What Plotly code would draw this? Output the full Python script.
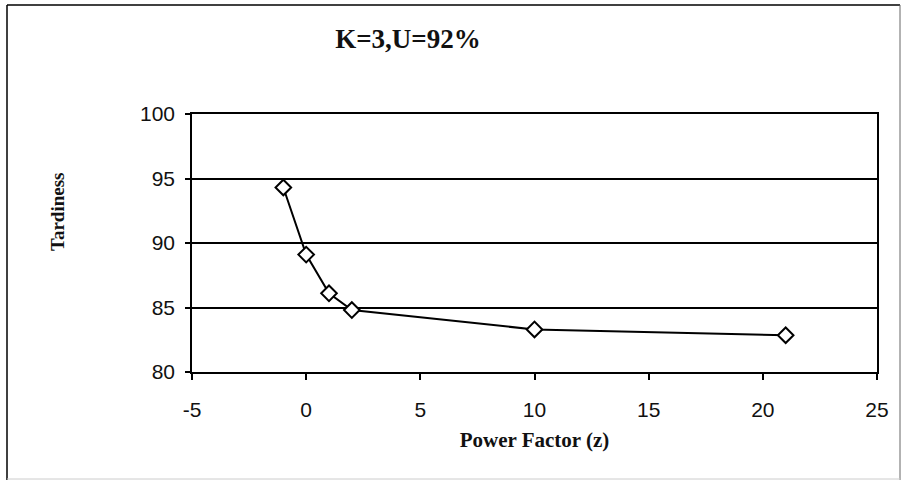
import plotly.graph_objects as go

power_factor = [-1, 0, 1, 2, 10, 21]
tardiness = [94.3, 89.1, 86.1, 84.8, 83.3, 82.85]

x_ticks = [-5, 0, 5, 10, 15, 20, 25]
x_tick_labels = ["-5", "0", "5", "10", "15", "20", "25"]
y_ticks = [80, 85, 90, 95, 100]

W, H = 904, 483
L, R, T, B = 192, 27, 114, 111
pw, ph = W - L - R, H - T - B

def px(x):
    return (x - L) / pw

def py(y):
    return (H - B - y) / ph

fig = go.Figure()
fig.add_trace(go.Scatter(
    x=power_factor, y=tardiness, mode="lines+markers",
    line=dict(color="black", width=2),
    marker=dict(symbol="diamond", size=12, color="white",
                line=dict(color="black", width=2)),
    showlegend=False,
))

fig.update_layout(
    width=W, height=H,
    margin=dict(l=L, r=R, t=T, b=B),
    paper_bgcolor="white", plot_bgcolor="white",
    title=dict(text="<b>K=3,U=92%</b>", x=px(408), xref="paper", xanchor="center",
               y=1 - 39 / H, yanchor="middle",
               font=dict(family="Liberation Serif", size=27, color="#111")),
    xaxis=dict(range=[-5, 25], tickvals=x_ticks, ticktext=x_tick_labels,
               ticks="outside", ticklen=6,
               tickcolor="black", tickwidth=1.5, showgrid=False, zeroline=False,
               showline=True, linecolor="black", linewidth=1.5, mirror=True,
               ticklabelstandoff=12,
               tickfont=dict(family="Liberation Sans", size=21, color="#111"),
               title=dict(text="<b>Power Factor (z)</b>", standoff=12,
                          font=dict(family="Liberation Serif", size=21, color="#111"))),
    yaxis=dict(range=[80, 100], tickvals=y_ticks, ticks="outside", ticklen=5,
               tickcolor="black", tickwidth=1.5, showgrid=True, gridcolor="black",
               gridwidth=1.5, zeroline=False, showline=True, linecolor="black",
               linewidth=1.5, mirror=True, ticklabelstandoff=6,
               tickfont=dict(family="Liberation Sans", size=21, color="#111")),
    annotations=[
        dict(text="<b>Tardiness</b>", xref="paper", yref="paper", x=px(57), y=py(212),
             xanchor="center", yanchor="middle", textangle=-90, showarrow=False,
             font=dict(family="Liberation Serif", size=19, color="#111")),
    ],
    shapes=[
        dict(type="line", xref="paper", yref="paper", x0=px(7), x1=px(7), y0=py(5), y1=py(480),
             line=dict(color="black", width=1.5)),
        dict(type="line", xref="paper", yref="paper", x0=px(7), x1=px(900), y0=py(5), y1=py(5),
             line=dict(color="black", width=1.5)),
        dict(type="line", xref="paper", yref="paper", x0=px(900), x1=px(900), y0=py(5), y1=py(480),
             line=dict(color="#666", width=1)),
        dict(type="line", xref="paper", yref="paper", x0=px(7), x1=px(900), y0=py(479), y1=py(479),
             line=dict(color="#ccc", width=1)),
    ],
)

fig.write_html("out.html")
